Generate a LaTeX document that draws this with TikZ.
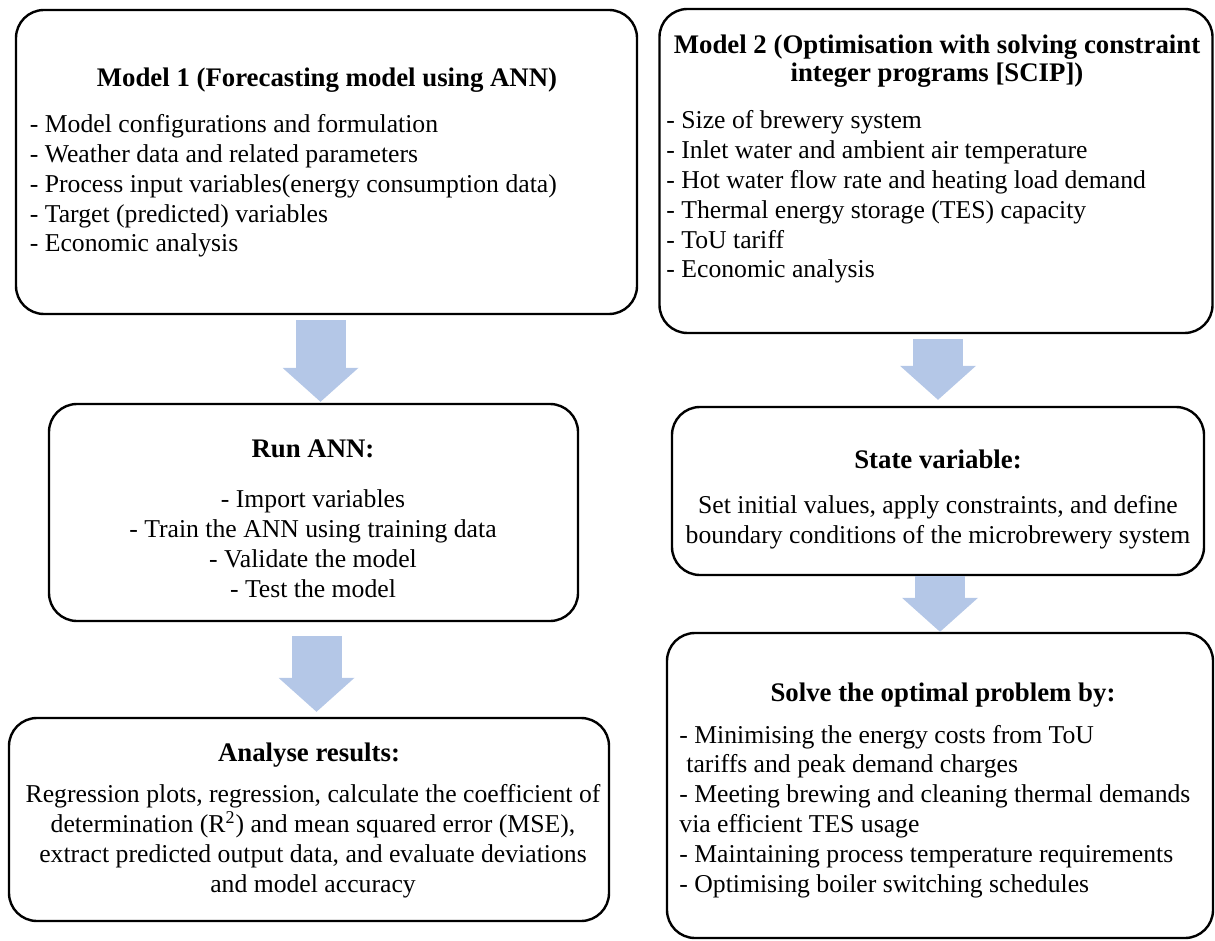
\documentclass[tikz,border=0pt]{standalone}
\usepackage{fontspec}
\setmainfont{Liberation Serif}
\usetikzlibrary{arrows.meta,calc}
\definecolor{flowblue}{RGB}{180,199,231}
\tikzset{
  box/.style={draw, rounded corners=14pt, line width=1.2pt, inner sep=0pt},
  txt/.style={inner sep=0pt, font=\fontsize{12.85pt}{14.9pt}\selectfont},
  head/.style={inner sep=0pt, anchor=base, align=center, font=\fontsize{13.4pt}{14pt}\selectfont\bfseries},
  flow/.style={draw=flowblue, line width=25pt, -{Triangle[width=38pt,length=17pt,line width=0pt]}}
}
\begin{document}
\begin{tikzpicture}[x=0.5pt,y=-0.5pt]
  \useasboundingbox (0,0) rectangle (1215,941);
  % left column
  \node[box, minimum width=310.5pt, minimum height=152pt] (m1) at (326.5,162) {};
  \node[box, minimum width=264.5pt, minimum height=108.5pt] (ann) at (313.5,512.5) {};
  \node[box, minimum width=300pt, minimum height=101.5pt] (res) at (309,819.5) {};
  % right column
  \node[box, minimum width=276.5pt, minimum height=162pt] (m2) at (936,171) {};
  \node[box, minimum width=266pt, minimum height=84pt] (sv) at (938,491) {};
  \node[box, minimum width=273pt, minimum height=152.5pt] (sol) at (940,785.5) {};

  % texts (multi-line nodes sit on the baseline of their last line)
  \node[head] (m1t) at (327,87) {Model 1 (Forecasting model using ANN)};
  \node[txt, anchor=base west, align=left] (m1l) at (29.5,252)
        {- Model configurations and formulation\\
         - Weather data and related parameters\\
         - Process input variables(energy consumption data)\\
         - Target (predicted) variables\\
         - Economic analysis};
  \node[head] (annt) at (313,457) {Run ANN:};
  \node[txt, anchor=base, align=center] (annl) at (313,597)
        {- Import variables\\
         - Train the ANN using training data\\
         - Validate the model\\
         - Test the model};
  \node[head] (rest) at (309,761) {Analyse results:};
  \node[txt, anchor=base, align=center] (resl) at (313,892)
        {Regression plots, regression, calculate the coefficient of\\
         determination (R\textsuperscript{2}) and mean squared error (MSE),\\
         extract predicted output data, and evaluate deviations\\
         and model accuracy};
  \node[head] (m2t) at (937,82)
        {Model 2 (Optimisation with solving constraint\\ integer programs [SCIP])};
  \node[txt, anchor=base west, align=left] (m2l) at (666,278)
        {- Size of brewery system\\
         - Inlet water and ambient air temperature\\
         - Hot water flow rate and heating load demand\\
         - Thermal energy storage (TES) capacity\\
         - ToU tariff\\
         - Economic analysis};
  \node[head] (svt) at (938,468) {State variable:};
  \node[txt, anchor=base, align=center] (svl) at (938,543)
        {Set initial values, apply constraints, and define\\
         boundary conditions of the microbrewery system};
  \node[head] (solt) at (943,701) {Solve the optimal problem by:};
  \node[txt, anchor=base west, align=left] (soll) at (679,892)
        {- Minimising the energy costs from ToU\\
         \hspace*{3.5pt}tariffs and peak demand charges\\
         - Meeting brewing and cleaning thermal demands\\
         via efficient TES usage\\
         - Maintaining process temperature requirements\\
         - Optimising boiler switching schedules};

  % block arrows
  \draw[flow] ([xshift=-3pt,yshift=-2.5pt]m1.south) -- ([xshift=-3pt,yshift=0.5pt]m1.south |- ann.north);
  \draw[flow] ([xshift=1.5pt,yshift=-7pt]ann.south) -- ([xshift=1.5pt,yshift=2.5pt]ann.south |- res.north);
  \draw[flow] ([xshift=1pt,yshift=-2.5pt]m2.south) -- ([xshift=1pt,yshift=3pt]m2.south |- sv.north);
  \draw[flow] ([xshift=1pt]sv.south) -- ([xshift=1pt]sv.south |- sol.north);
\end{tikzpicture}
\end{document}
